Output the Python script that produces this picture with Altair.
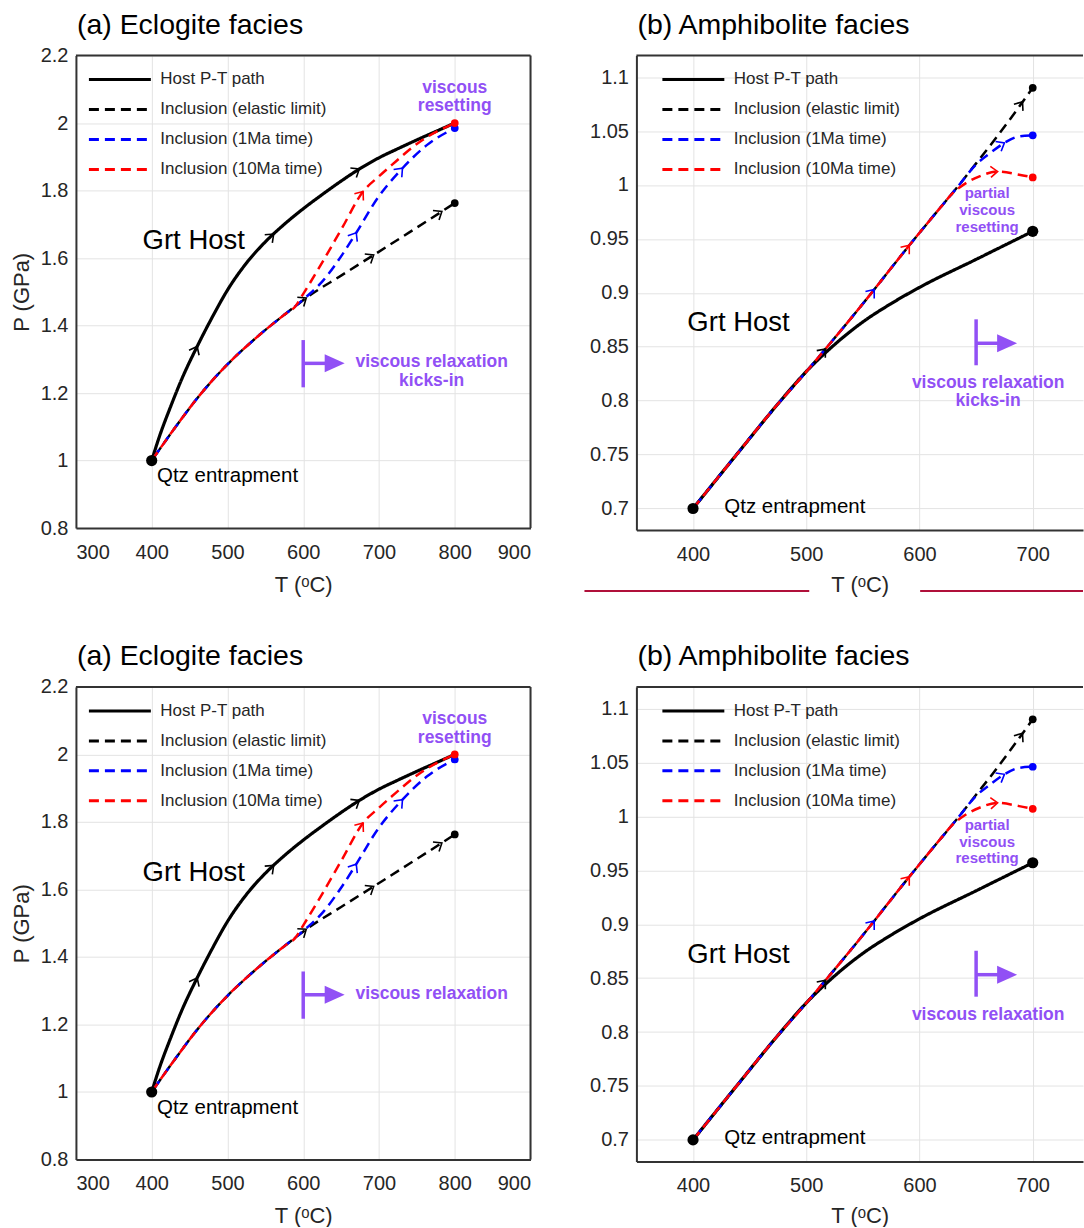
import math

import altair as alt
import numpy as np
import pandas as pd

FONT = "Liberation Sans"
INK = "#262626"
PURPLE = "#9150f5"
FRAME = "#333333"

SERIES = ["Host P-T path", "Inclusion (elastic limit)",
          "Inclusion (1Ma time)", "Inclusion (10Ma time)"]
SERIES_COLORS = ["#000000", "#000000", "#0000ff", "#ff0000"]
SERIES_DASHES = [[1, 0], [10, 6], [10, 6], [10, 6]]

# ---------------- (a) Eclogite facies ----------------
A_X_TICKS = [300, 400, 500, 600, 700, 800, 900]
A_Y_TICKS = [0.8, 1.0, 1.2, 1.4, 1.6, 1.8, 2.0, 2.2]

A_HOST_T = [400, 410, 425, 440, 460, 480, 500, 525, 550, 575, 600, 625, 650, 675, 700, 725,
            750, 775, 800]
A_HOST_P = [1.00, 1.07, 1.16, 1.243, 1.338, 1.425, 1.505, 1.585, 1.648, 1.70, 1.746, 1.788,
            1.828, 1.865, 1.897, 1.924, 1.95, 1.975, 2.00]
A_SHARED_T = [400, 430, 462, 500, 537, 575, 590]
A_SHARED_P = [1.00, 1.095, 1.19, 1.285, 1.362, 1.432, 1.458]
A_ELASTIC_T = [604, 650, 693, 740, 783, 800]
A_ELASTIC_P = [1.482, 1.548, 1.609, 1.676, 1.738, 1.763]
A_1MA_T = [604, 625, 650, 670, 698, 731, 764, 800]
A_1MA_P = [1.485, 1.53, 1.605, 1.675, 1.777, 1.866, 1.936, 1.985]
A_10MA_T = [599, 623, 651, 679, 700, 717, 755, 800]
A_10MA_P = [1.49, 1.579, 1.688, 1.797, 1.842, 1.876, 1.946, 2.00]

A_HOST_ARROW_T = [460, 561, 674]
A_HOST_ARROW_P = [1.338, 1.671, 1.864]
A_ELASTIC_ARROW_T = [604, 693, 783]
A_ELASTIC_ARROW_P = [1.482, 1.609, 1.738]
A_1MA_ARROW_T = [670, 731]
A_1MA_ARROW_P = [1.675, 1.866]
A_10MA_ARROW_T = [679]
A_10MA_ARROW_P = [1.797]

A_START = (400, 1.00)
A_END_T = [800, 800, 800]
A_END_P = [1.763, 1.985, 2.00]

# ---------------- (b) Amphibolite facies ----------------
B_X_TICKS = [400, 500, 600, 700]
B_Y_TICKS = [0.7, 0.75, 0.8, 0.85, 0.9, 0.95, 1.0, 1.05, 1.1]

B_HOST_T = [400, 440, 475, 500, 525, 550, 575, 600, 650, 700]
B_HOST_P = [0.700, 0.752, 0.797, 0.827, 0.852, 0.873, 0.890, 0.905, 0.931, 0.957]
B_SHARED_T = [400, 440, 475, 491, 505, 517, 540, 560, 575, 591, 605, 620, 628]
B_SHARED_P = [0.700, 0.752, 0.797, 0.816, 0.833, 0.848, 0.877, 0.903, 0.923, 0.944, 0.962,
              0.981, 0.991]
B_ELASTIC_T = [635, 650, 665, 680, 700]
B_ELASTIC_P = [1.000, 1.020, 1.040, 1.061, 1.090]
B_1MA_T = [635, 650, 663, 675, 688, 700]
B_1MA_P = [1.000, 1.019, 1.030, 1.039, 1.045, 1.046]
B_10MA_T = [640, 653, 669, 688, 700]
B_10MA_P = [1.001, 1.008, 1.0125, 1.0095, 1.007]

B_HOST_ARROW_T = []
B_HOST_ARROW_P = []
B_ELASTIC_ARROW_T = [517, 691]
B_ELASTIC_ARROW_P = [0.848, 1.077]
B_1MA_ARROW_T = [560, 675]
B_1MA_ARROW_P = [0.903, 1.039]
B_10MA_ARROW_T = [591, 669]
B_10MA_ARROW_P = [0.944, 1.0125]

B_START = (400, 0.700)
B_HOST_END = (700, 0.957)
B_END_T = [700, 700, 700]
B_END_P = [1.090, 1.046, 1.007]

CHEVRON = "M-1,-0.8L0,0L-1,0.8"
HEAD = "M-2,-0.9L0,0L-2,0.9Z"
LEGEND_LINE = "M-2.385,0H2.385"


def build_panel(p, bottom):
    W, H = p["width"], p["height"]
    xdom, ydom = p["xdom"], p["ydom"]
    sx = W / (xdom[1] - xdom[0])
    sy = H / (ydom[1] - ydom[0])

    x_enc = alt.X(
        "T:Q",
        scale=alt.Scale(domain=xdom, nice=False, zero=False),
        axis=alt.Axis(values=p["xticks"], title="T (ᵒC)", titleY=p["xtitle_y"],
                      titleBaseline="alphabetic", labelPadding=14),
    )
    if p["ytitle"]:
        y_axis = alt.Axis(values=p["yticks"], format="~g", title=p["ytitle"], titleX=-54,
                          titleY=H / 2, titleAngle=270, titleBaseline="middle",
                          titleAlign="center", labelPadding=8)
    else:
        y_axis = alt.Axis(values=p["yticks"], format="~g", title=None, labelPadding=8)
    y_enc = alt.Y("P:Q", scale=alt.Scale(domain=ydom, nice=False, zero=False), axis=y_axis)

    legend = alt.Legend(
        orient="none", legendX=p["legend_x"], legendY=9.5, title=None,
        symbolType=LEGEND_LINE, symbolSize=676, symbolStrokeWidth=3,
        symbolOffset=16.5, labelOffset=26, rowPadding=7, padding=0,
        labelFont=FONT, labelFontSize=17, labelColor=INK, labelLimit=400,
    )
    color = alt.Color("series:N", scale=alt.Scale(domain=SERIES, range=SERIES_COLORS),
                      legend=legend, sort=SERIES)
    dash = alt.StrokeDash("series:N", scale=alt.Scale(domain=SERIES, range=SERIES_DASHES),
                          legend=legend, sort=SERIES)
    stroke_by_series = alt.Stroke("series:N", scale=alt.Scale(domain=SERIES, range=SERIES_COLORS),
                                  legend=None)
    fill_by_series = alt.Fill("series:N", scale=alt.Scale(domain=SERIES, range=SERIES_COLORS),
                              legend=None)

    layers = []
    # curves: host solid, inclusions dashed; staggered dash phases let the
    # overlapping inclusion paths show through each other
    widths = [3.2, 2.5, 2.5, 2.5]
    phases = [0, 10, 13, 0]
    for name, (ct, cp), w, ph in zip(SERIES, p["curves"], widths, phases):
        df = pd.DataFrame({"T": ct, "P": cp, "series": name})
        layers.append(
            alt.Chart(df).mark_line(strokeWidth=w, strokeDashOffset=ph, strokeCap="butt",
                                    interpolate="monotone")
            .encode(x=x_enc, y=y_enc, color=color, strokeDash=dash, order="T:Q")
        )

    # direction arrowheads along each curve
    rows = []
    for name, (ct, cp), (at, ap) in zip(SERIES, p["curves"], p["arrows"]):
        ct = np.asarray(ct, float)
        cp = np.asarray(cp, float)
        for ti, pi in zip(at, ap):
            lo, hi = max(ti - 3, ct[0]), min(ti + 3, ct[-1])
            dp = np.interp(hi, ct, cp) - np.interp(lo, ct, cp)
            ang = math.degrees(math.atan2(-dp * sy, (hi - lo) * sx)) % 360
            rows.append({"T": ti, "P": pi, "angle": ang, "series": name})
    if rows:
        layers.append(
            alt.Chart(pd.DataFrame(rows)).mark_point(shape=CHEVRON, size=196, filled=False,
                                                     strokeWidth=1.6, opacity=1)
            .encode(x=x_enc, y=y_enc, angle=alt.Angle("angle:Q", scale=None),
                    stroke=stroke_by_series)
        )

    # end-point markers of the inclusion paths
    ends = pd.DataFrame({"T": p["end_t"], "P": p["end_p"], "series": SERIES[1:]})
    layers.append(
        alt.Chart(ends).mark_point(shape="circle", filled=True, size=60, opacity=1)
        .encode(x=x_enc, y=y_enc, fill=fill_by_series)
    )
    big = pd.DataFrame({"T": [pt[0] for pt in p["big_dots"]],
                        "P": [pt[1] for pt in p["big_dots"]]})
    layers.append(
        alt.Chart(big).mark_point(shape="circle", filled=True, size=125, opacity=1,
                                  color="black")
        .encode(x=x_enc, y=y_enc)
    )

    # text labels
    host_lbl = pd.DataFrame({"T": [p["grt"][0]], "P": [p["grt"][1]], "txt": ["Grt Host"]})
    layers.append(
        alt.Chart(host_lbl).mark_text(align="left", baseline="middle", font=FONT,
                                      fontSize=27.5, color="black")
        .encode(x=x_enc, y=y_enc, text="txt:N")
    )
    qtz_lbl = pd.DataFrame({"T": [p["qtz"][0]], "P": [p["qtz"][1]], "txt": ["Qtz entrapment"]})
    layers.append(
        alt.Chart(qtz_lbl).mark_text(align="left", baseline="middle", font=FONT,
                                     fontSize=20.5, color="black")
        .encode(x=x_enc, y=y_enc, text="txt:N")
    )
    res_lbl = pd.DataFrame({"T": p["reset_t"], "P": p["reset_p"], "txt": p["reset_txt"]})
    layers.append(
        alt.Chart(res_lbl).mark_text(align="center", baseline="middle", font=FONT,
                                     fontSize=p["reset_size"], fontWeight="bold", color=PURPLE)
        .encode(x=x_enc, y=y_enc, text="txt:N")
    )
    relax_txt = ["viscous relaxation"] if bottom else ["viscous relaxation", "kicks-in"]
    relax_lbl = pd.DataFrame({"T": p["relax_t"][:len(relax_txt)],
                              "P": p["relax_p"][:len(relax_txt)], "txt": relax_txt})
    layers.append(
        alt.Chart(relax_lbl).mark_text(align="center", baseline="middle", font=FONT,
                                       fontSize=17.5, fontWeight="bold", color=PURPLE)
        .encode(x=x_enc, y=y_enc, text="txt:N")
    )

    # onset bracket with arrow
    bt, bp0, bp1, ap_, tip = p["bracket"]
    bar = pd.DataFrame({"T": [bt], "P": [bp0], "P2": [bp1]})
    layers.append(
        alt.Chart(bar).mark_rule(color=PURPLE, strokeWidth=3.5)
        .encode(x=x_enc, y=y_enc, y2="P2:Q")
    )
    shaft = pd.DataFrame({"T": [bt], "T2": [tip - 12 / sx], "P": [ap_]})
    layers.append(
        alt.Chart(shaft).mark_rule(color=PURPLE, strokeWidth=3.5)
        .encode(x=x_enc, x2="T2:Q", y=y_enc)
    )
    head = pd.DataFrame({"T": [tip], "P": [ap_]})
    layers.append(
        alt.Chart(head).mark_point(shape=HEAD, size=400, filled=True, color=PURPLE, opacity=1)
        .encode(x=x_enc, y=y_enc)
    )

    # box edges not covered by the axes
    top_edge = pd.DataFrame({"P": [ydom[1]]})
    layers.append(
        alt.Chart(top_edge).mark_rule(color=FRAME, strokeWidth=2).encode(y=y_enc)
    )
    if p["right_edge"]:
        right_edge = pd.DataFrame({"T": [xdom[1]]})
        layers.append(
            alt.Chart(right_edge).mark_rule(color=FRAME, strokeWidth=2).encode(x=x_enc)
        )

    # panel heading, set above the frame
    layers.append(
        alt.Chart(top_edge).mark_text(align="left", baseline="alphabetic", font=FONT,
                                      fontSize=28.5, color="black")
        .encode(x=alt.value(1), y=alt.value(-22), text=alt.value(p["title"]))
    )

    # separator rule under the upper amphibolite panel
    if p["separator"] and not bottom:
        for a, b in [(-52, 173), (284, 447)]:
            layers.append(
                alt.Chart(top_edge).mark_rule(color="#b0103a", strokeWidth=2)
                .encode(x=alt.value(a), x2=alt.value(b), y=alt.value(536))
            )

    return alt.layer(*layers).properties(width=W, height=H)


PANEL_A = dict(
    title="(a) Eclogite facies", width=455, height=473, xdom=[300, 900], ydom=[0.8, 2.2],
    xticks=A_X_TICKS, yticks=A_Y_TICKS, ytitle="P (GPa)", xtitle_y=63, legend_x=13,
    curves=[(A_HOST_T, A_HOST_P),
            (A_SHARED_T + A_ELASTIC_T, A_SHARED_P + A_ELASTIC_P),
            (A_SHARED_T + A_1MA_T, A_SHARED_P + A_1MA_P),
            (A_SHARED_T + A_10MA_T, A_SHARED_P + A_10MA_P)],
    arrows=[(A_HOST_ARROW_T, A_HOST_ARROW_P), (A_ELASTIC_ARROW_T, A_ELASTIC_ARROW_P),
            (A_1MA_ARROW_T, A_1MA_ARROW_P), (A_10MA_ARROW_T, A_10MA_ARROW_P)],
    end_t=A_END_T, end_p=A_END_P, big_dots=[A_START],
    grt=(388, 1.650), qtz=(407, 0.954),
    reset_t=[800, 800], reset_p=[2.105, 2.049], reset_txt=["viscous", "resetting"],
    reset_size=17.5,
    relax_t=[769.5, 769.5], relax_p=[1.291, 1.235],
    bracket=(600, 1.357, 1.217, 1.288, 654.7),
    right_edge=True, separator=False,
)

PANEL_B = dict(
    title="(b) Amphibolite facies", width=447, height=475, xdom=[350, 744.4],
    ydom=[0.68, 1.12], xticks=B_X_TICKS, yticks=B_Y_TICKS, ytitle=None, xtitle_y=61,
    legend_x=26,
    curves=[(B_HOST_T, B_HOST_P),
            (B_SHARED_T + B_ELASTIC_T, B_SHARED_P + B_ELASTIC_P),
            (B_SHARED_T + B_1MA_T, B_SHARED_P + B_1MA_P),
            (B_SHARED_T + B_10MA_T, B_SHARED_P + B_10MA_P)],
    arrows=[(B_HOST_ARROW_T, B_HOST_ARROW_P), (B_ELASTIC_ARROW_T, B_ELASTIC_ARROW_P),
            (B_1MA_ARROW_T, B_1MA_ARROW_P), (B_10MA_ARROW_T, B_10MA_ARROW_P)],
    end_t=B_END_T, end_p=B_END_P, big_dots=[B_START, B_HOST_END],
    grt=(395, 0.8717), qtz=(427.6, 0.7016),
    reset_t=[659.7, 659.7, 659.7], reset_p=[0.9922, 0.9764, 0.961],
    reset_txt=["partial", "viscous", "resetting"], reset_size=15,
    relax_t=[660.6, 660.6], relax_p=[0.8162, 0.7995],
    bracket=(650, 0.8754, 0.8328, 0.8532, 686.2),
    right_edge=False, separator=True,
)


chart = (
    alt.concat(
        build_panel(PANEL_A, False), build_panel(PANEL_B, False),
        build_panel(PANEL_A, True), build_panel(PANEL_B, True),
        columns=2, spacing={"row": 157, "column": 106}, bounds="flush",
    )
    .resolve_scale(color="independent", strokeDash="independent")
    .resolve_legend(color="independent", strokeDash="independent")
    .properties(padding={"left": 11, "top": 10, "right": 0, "bottom": 0}, background="white")
    .configure(font=FONT)
    .configure_view(strokeWidth=0)
    .configure_axis(
        labelFont=FONT, labelFontSize=20, labelColor=INK,
        titleFont=FONT, titleFontSize=22, titleColor=INK, titleFontWeight="normal",
        gridColor="#e3e3e3", gridWidth=1, domainColor=FRAME, domainWidth=2,
        ticks=False, tickSize=0,
    )
)

chart.save("out.html", embed_options={"renderer": "svg", "actions": False})
